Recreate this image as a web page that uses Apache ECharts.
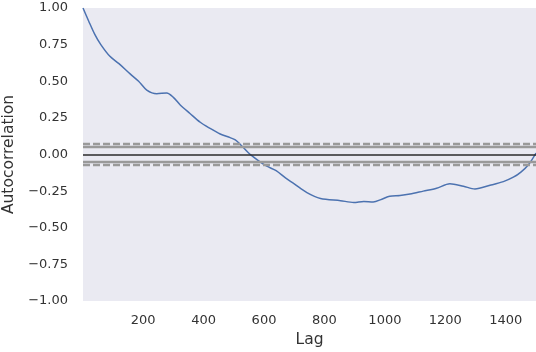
<!DOCTYPE html>
<html><head><meta charset="utf-8">
<script src="https://cdn.jsdelivr.net/npm/echarts@6/dist/echarts.min.js"></script>
<style>html,body{margin:0;padding:0;background:#fff}#c{width:536px;height:352px}</style>
</head><body><div id="c"></div>
<script>
const lags = [1,20,40,60,90,120,157,185,212,245,278,300,322,355,389,420,455,488,505,521,549,580,609,640,671,700,742,787,853,897,930,961,990,1016,1050,1083,1127,1171,1215,1260,1298,1348,1392,1425,1450,1475,1500];
const acf  = [1.0,0.91,0.82,0.75,0.67,0.62,0.55,0.50,0.44,0.415,0.42,0.39,0.34,0.28,0.22,0.18,0.14,0.115,0.10,0.07,0.01,-0.04,-0.08,-0.11,-0.16,-0.20,-0.26,-0.30,-0.315,-0.327,-0.32,-0.324,-0.305,-0.285,-0.28,-0.27,-0.25,-0.23,-0.20,-0.217,-0.235,-0.21,-0.185,-0.155,-0.12,-0.07,0.01];
const xTicks = [200,400,600,800,1000,1200,1400];
const solidBands = [0.0506,-0.0506];
const dashedBands = [0.0665,-0.0665];
const zeroLine = [0];

const chart = echarts.init(document.getElementById('c'));
const font = 'DejaVu Sans';
const txt = '#333333';
const bandLine = (vals, type, color, w) => vals.map(v => ({yAxis: v, lineStyle: {type: type, color: color, width: w}}));
chart.setOption({
  animation: false,
  grid: {left: 83, right: 0, top: 8, bottom: 51, show: true, backgroundColor: '#EAEAF2', borderWidth: 0,
         containLabel: false, outerBoundsMode: 'none'},
  xAxis: {
    type: 'value', min: 1, max: 1500,
    name: 'Lag', nameLocation: 'middle', nameGap: 31,
    nameTextStyle: {fontFamily: font, fontSize: 15.5, color: txt},
    axisLine: {show: false}, axisTick: {show: false}, splitLine: {show: false},
    axisLabel: {customValues: xTicks, fontFamily: font, fontSize: 13, color: txt, margin: 13,
      formatter: v => String(v)}
  },
  yAxis: {
    type: 'value', min: -1, max: 1, interval: 0.25,
    name: 'Autocorrelation', nameLocation: 'middle', nameGap: 64, nameRotate: 90,
    nameTextStyle: {fontFamily: font, fontSize: 15.5, color: txt},
    axisLine: {show: false}, axisTick: {show: false}, splitLine: {show: false},
    axisLabel: {fontFamily: font, fontSize: 13, color: txt, margin: 15,
      formatter: v => (v < 0 ? '\u2212' : '') + Math.abs(v).toFixed(2)}
  },
  series: [{
    type: 'line', data: lags.map((l, i) => [l, acf[i]]),
    showSymbol: false, smooth: 0.3,
    lineStyle: {color: '#4C72B0', width: 1.5},
    markLine: {
      silent: true, symbol: 'none', label: {show: false}, animation: false,
      data: [].concat(
        bandLine(solidBands, 'solid', '#9a9a9a', 2.4),
        bandLine(dashedBands, [7, 3], '#9a9a9a', 2.4),
        bandLine(zeroLine, 'solid', '#2b2b2b', 1.6)
      )
    },
    z: 3
  }]
});
</script></body></html>
